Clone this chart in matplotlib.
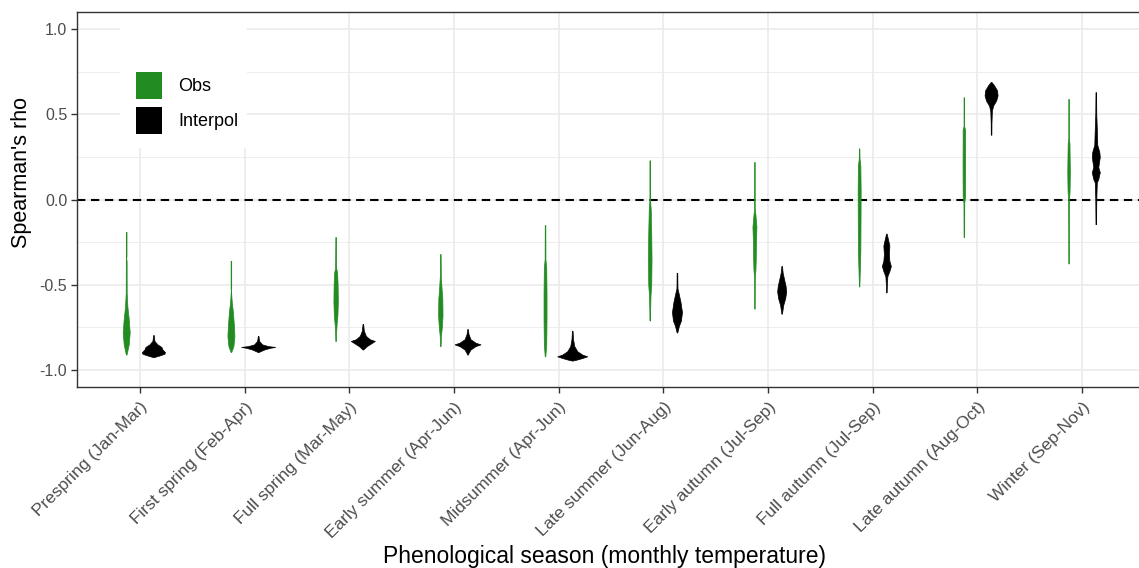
import matplotlib
matplotlib.use('Agg')
import matplotlib.pyplot as plt
import numpy as np
from matplotlib.patches import Patch, Rectangle

plt.rcParams['font.family'] = ['Liberation Sans', 'DejaVu Sans']

# ---------------- data ----------------
categories = ["Prespring (Jan-Mar)", "First spring (Feb-Apr)", "Full spring (Mar-May)",
              "Early summer (Apr-Jun)", "Midsummer (Apr-Jun)", "Late summer (Jun-Aug)",
              "Early autumn (Jul-Sep)", "Full autumn (Jul-Sep)", "Late autumn (Aug-Oct)",
              "Winter (Sep-Nov)"]
series_names = ["Obs", "Interpol"]
y_ticks = [-1.0, -0.5, 0.0, 0.5, 1.0]
y_tick_labels = ["-1.0", "-0.5", "0.0", "0.5", "1.0"]

# violin profiles: rho knots and relative density (half-width)
obs_rho = [
    [-0.19, -0.33, -0.345, -0.36, -0.55, -0.63, -0.70, -0.78, -0.85, -0.91],
    [-0.36, -0.52, -0.535, -0.55, -0.60, -0.66, -0.74, -0.80, -0.86, -0.895],
    [-0.22, -0.40, -0.43, -0.50, -0.60, -0.68, -0.73, -0.78, -0.83],
    [-0.32, -0.45, -0.52, -0.58, -0.68, -0.75, -0.80, -0.86],
    [-0.15, -0.35, -0.40, -0.55, -0.70, -0.85, -0.92],
    [0.23, 0.00, -0.06, -0.20, -0.35, -0.50, -0.56, -0.65, -0.71],
    [0.22, -0.05, -0.09, -0.16, -0.25, -0.35, -0.41, -0.46, -0.64],
    [0.30, 0.24, 0.20, 0.05, -0.10, -0.30, -0.43, -0.51],
    [0.60, 0.43, 0.41, 0.20, 0.02, -0.02, -0.22],
    [0.59, 0.36, 0.33, 0.16, 0.05, 0.00, -0.20, -0.375],
]
obs_density = [
    [0.3, 0.3, 0.0, 0.4, 0.5, 1.2, 2.5, 3.5, 2.5, 0.3],
    [0.3, 0.3, 0.0, 0.3, 0.8, 2.0, 3.0, 3.5, 2.5, 0.3],
    [0.3, 0.5, 1.5, 2.0, 2.2, 1.8, 1.0, 0.5, 0.3],
    [0.3, 0.5, 1.2, 2.0, 2.2, 1.5, 0.6, 0.3],
    [0.3, 0.4, 1.2, 1.5, 1.5, 1.2, 0.3],
    [0.3, 0.3, 1.0, 1.5, 1.8, 1.5, 0.8, 0.4, 0.3],
    [0.3, 0.3, 1.0, 2.0, 1.5, 1.3, 1.0, 0.4, 0.3],
    [0.2, 0.4, 1.2, 1.5, 1.4, 1.2, 0.6, 0.2],
    [0.3, 0.3, 1.2, 1.3, 1.2, 0.4, 0.3],
    [0.3, 0.3, 0.9, 1.3, 1.0, 0.5, 0.35, 0.3],
]
interp_rho = [
    [-0.795, -0.83, -0.85, -0.865, -0.88, -0.895, -0.905, -0.915, -0.925],
    [-0.80, -0.83, -0.85, -0.86, -0.865, -0.87, -0.88, -0.895],
    [-0.73, -0.77, -0.80, -0.82, -0.83, -0.845, -0.86, -0.88],
    [-0.76, -0.79, -0.82, -0.84, -0.85, -0.86, -0.88, -0.90, -0.91],
    [-0.77, -0.82, -0.86, -0.89, -0.91, -0.92, -0.93, -0.94, -0.945],
    [-0.43, -0.52, -0.56, -0.60, -0.66, -0.71, -0.74, -0.78],
    [-0.39, -0.43, -0.47, -0.51, -0.54, -0.58, -0.62, -0.67],
    [-0.20, -0.23, -0.27, -0.32, -0.36, -0.39, -0.42, -0.45, -0.50, -0.545],
    [0.69, 0.67, 0.64, 0.61, 0.58, 0.55, 0.52, 0.45, 0.38],
    [0.63, 0.50, 0.42, 0.32, 0.28, 0.25, 0.21, 0.19, 0.16, 0.12, 0.10, 0.00, -0.145],
]
interp_density = [
    [0.3, 1.0, 4.0, 8.0, 9.0, 11.5, 11.0, 6.0, 0.3],
    [0.3, 1.0, 4.0, 10.0, 17.0, 12.0, 6.0, 0.3],
    [0.3, 1.0, 3.0, 7.0, 12.0, 8.0, 4.0, 0.3],
    [0.3, 1.0, 3.0, 8.0, 13.0, 8.0, 3.0, 1.0, 0.3],
    [0.3, 0.8, 2.0, 5.0, 10.0, 15.0, 10.0, 4.0, 0.3],
    [0.3, 0.5, 2.0, 3.5, 5.0, 4.0, 2.0, 0.3],
    [0.3, 1.0, 2.5, 4.0, 4.5, 3.5, 1.5, 0.3],
    [0.3, 1.5, 3.0, 2.5, 3.0, 4.5, 3.0, 1.0, 0.5, 0.3],
    [0.3, 3.0, 6.0, 6.5, 5.0, 2.0, 0.8, 0.4, 0.3],
    [0.3, 0.5, 1.0, 1.5, 3.5, 4.0, 3.0, 2.5, 4.0, 2.5, 1.0, 0.5, 0.3],
]

# ---------------- style ----------------
obs_color = "#228B22"
interp_color = "#000000"
dodge = 0.13
violin_scale = 1 / 104.7  # density units -> x units

W, H = 1139, 568
fig = plt.figure(figsize=(W / 100, H / 100), dpi=100)
L, R, T, B = 77, 1145, 12, 387
ax = fig.add_axes([L / W, 1 - B / H, (R - L) / W, (B - T) / H])

ax.set_xlim(0.4, len(categories) + 0.6)
ax.set_ylim(-1.1, 1.1)
ax.set_axisbelow(True)

# grid
for yv in [-0.75, -0.25, 0.25, 0.75]:
    ax.axhline(yv, color="#EBEBEB", lw=0.6, zorder=0.4)
for yv in y_ticks:
    ax.axhline(yv, color="#EBEBEB", lw=1.2, zorder=0.5)
for i in range(len(categories)):
    ax.axvline(i + 1, color="#EBEBEB", lw=1.2, zorder=0.5)

# legend background box (in pixel coords)
def px_to_data(px, py):
    inv = ax.transData.inverted()
    return inv.transform((px, H - py))

fig.canvas.draw()
x0, y0 = px_to_data(120, 148)
x1, y1 = px_to_data(247, 13)
ax.add_patch(Rectangle((x0, y0), x1 - x0, y1 - y0, facecolor="white", edgecolor="none", zorder=1))

# zero line
ax.axhline(0, color="black", lw=1.5, linestyle=(0, (4, 2.7)), zorder=2)

def draw_violin(xc, ys, ds, color):
    ys = np.asarray(ys)
    ws = np.asarray(ds) * violin_scale
    ax.fill_betweenx(ys, xc - ws, xc + ws, facecolor=color, edgecolor=color, lw=0.5, zorder=3)

for i in range(len(categories)):
    draw_violin(i + 1 - dodge, obs_rho[i], obs_density[i], obs_color)
    draw_violin(i + 1 + dodge, interp_rho[i], interp_density[i], interp_color)

ax.set_xticks(np.arange(1, len(categories) + 1))
ax.set_xticklabels(categories, rotation=45, ha="right", va="top", rotation_mode="anchor",
                   fontsize=12.5, color="#4D4D4D")
ax.set_yticks(y_ticks)
ax.set_yticklabels(y_tick_labels, fontsize=11.5, color="#4D4D4D")
ax.tick_params(axis="both", length=4, width=1.0, color="#333333", pad=3)
ax.tick_params(axis="x", pad=5)

for s in ax.spines.values():
    s.set_color("#333333")
    s.set_linewidth(1.0)

fig.text(604 / W, 1 - 556 / H, "Phenological season (monthly temperature)", fontsize=16.5,
         ha="center", va="center")
fig.text(22 / W, 1 - 172 / H, "Spearman's rho", fontsize=15.5, rotation=90,
         ha="center", va="center")

handles = [Patch(facecolor=obs_color, edgecolor="none", label=series_names[0]),
           Patch(facecolor=interp_color, edgecolor="none", label=series_names[1])]
fig.legend(handles=handles, loc="upper left", bbox_to_anchor=(136 / W, 1 - 72 / H),
           frameon=False, fontsize=13, handlelength=1.44, handleheight=1.92,
           labelspacing=0.44, handletextpad=0.89, borderpad=0, borderaxespad=0)

fig.savefig("out.png", dpi=100)
